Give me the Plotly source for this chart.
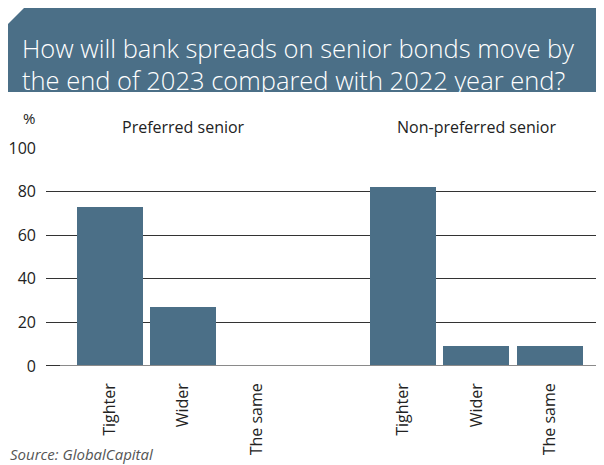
import plotly.graph_objects as go

# The page has an 8px body margin, so the figure is sized to fit the window
# and all reference pixel positions are shifted by that offset.
OFF = 8
W, H = 604 - OFF, 465 - OFF

categories = ["Tighter", "Wider", "The same"]
groups = ["Preferred senior", "Non-preferred senior"]
preferred = [73, 27, 0]
non_preferred = [82, 9, 9]
y_ticks = [0, 20, 40, 60, 80, 100]

BAR = "#4b6f87"
x_pref = [0, 1, 2]
x_nonpref = [4, 5, 6]

px_left, px_right = 46, 604
px_top, px_bottom = 148, 366

def fx(px):
    return (px - OFF) / W

def fy(py):
    return 1 - (py - OFF) / H

fig = go.Figure()
fig.add_trace(go.Bar(x=x_pref, y=preferred, width=0.9, marker_color=BAR,
                     marker_line_width=0, showlegend=False))
fig.add_trace(go.Bar(x=x_nonpref, y=non_preferred, width=0.9, marker_color=BAR,
                     marker_line_width=0, showlegend=False))

fig.update_layout(
    width=W, height=H, autosize=False,
    margin=dict(l=0, r=0, t=0, b=0, pad=0),
    paper_bgcolor="white", plot_bgcolor="white",
    showlegend=False,
    font=dict(family="Open Sans, Lato, sans-serif", color="#222"),
    xaxis=dict(
        domain=[fx(px_left), fx(px_right)],
        range=[-0.873, 6.74],
        tickvals=x_pref + x_nonpref,
        ticktext=categories + categories,
        tickangle=-90,
        tickfont=dict(size=16, color="#222"),
        ticks="", showgrid=False, zeroline=False, showline=False,
        ticklabelstandoff=13, automargin=False, fixedrange=True,
    ),
    yaxis=dict(
        domain=[fy(px_bottom), fy(px_top)],
        range=[0, 100],
        tickvals=y_ticks,
        tickfont=dict(size=16, color="#222"),
        showgrid=True, gridcolor="#333", gridwidth=1,
        zeroline=False, showline=False, ticks="",
        ticklabelstandoff=9, automargin=False, fixedrange=True,
    ),
    bargap=0,
)

fig.add_shape(type="line", xref="paper", yref="y", x0=fx(px_left), x1=1, y0=0, y1=0,
              line=dict(color="#8a8a8a", width=2), layer="above")
fig.add_shape(type="line", xref="paper", yref="y", x0=fx(px_left), x1=fx(60), y0=0, y1=0,
              line=dict(color="#333", width=2), layer="above")

x0, x1, y0, y1, c = 8, 604, 5, 92, 19
path = (f"M {fx(x0)},{fy(y0 + c)} L {fx(x0 + c)},{fy(y0)} L {fx(x1)},{fy(y0)} "
        f"L {fx(x1)},{fy(y1)} L {fx(x0)},{fy(y1)} Z")
fig.add_shape(type="path", xref="paper", yref="paper", path=path,
              fillcolor=BAR, line=dict(width=0), layer="below")

title_font = dict(size=25.5, color="white", family="Open Sans, sans-serif", weight=300)
fig.add_annotation(xref="paper", yref="paper", x=fx(20), y=fy(48), xanchor="left", yanchor="middle",
                   text="How will bank spreads on senior bonds move by", showarrow=False,
                   font=title_font)
fig.add_annotation(xref="paper", yref="paper", x=fx(20), y=fy(80), xanchor="left", yanchor="middle",
                   text="the end of 2023 compared with 2022 year end?", showarrow=False,
                   font=title_font)

fig.add_annotation(xref="paper", yref="paper", x=fx(29), y=fy(118), xanchor="center", yanchor="middle",
                   text="%", showarrow=False, font=dict(size=15, color="#222"))
fig.add_annotation(xref="x", yref="paper", x=(x_pref[0] + x_pref[-1]) / 2, y=fy(127),
                   xanchor="center", yanchor="middle", text=groups[0], showarrow=False,
                   font=dict(size=16, color="#222"))
fig.add_annotation(xref="x", yref="paper", x=(x_nonpref[0] + x_nonpref[-1]) / 2, y=fy(127),
                   xanchor="center", yanchor="middle", text=groups[1], showarrow=False,
                   font=dict(size=16, color="#222"))

fig.add_annotation(xref="paper", yref="paper", x=fx(8), y=fy(454), xanchor="left", yanchor="middle",
                   text="<i>Source: GlobalCapital</i>", showarrow=False,
                   font=dict(size=15, color="#555"))

fig.write_html("out.html")
